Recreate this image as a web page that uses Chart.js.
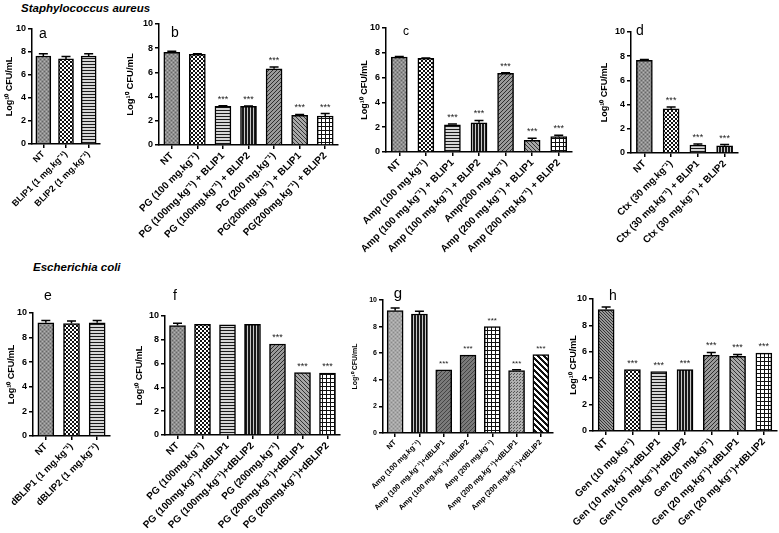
<!DOCTYPE html>
<html><head><meta charset="utf-8">
<script src="https://cdn.jsdelivr.net/npm/chart.js@4.4.1/dist/chart.umd.min.js"></script>
<style>
body{margin:0;width:779px;height:533px;background:#fff;position:relative;overflow:hidden;font-family:'Liberation Sans',Arial,sans-serif}
canvas{position:absolute}
.t{position:absolute;font-weight:bold;font-style:italic;font-size:11.5px;white-space:nowrap;color:#000}
.l{position:absolute;font-size:14px;transform:translate(-50%,-50%);color:#000}
</style></head><body>
<div class="t" style="left:21px;top:2px">Staphylococcus aureus</div>
<div class="t" style="left:33px;top:261px">Escherichia coli</div>
<script>
// ---------- DATA ----------
const sup = "mg.kg\u207B\u00B9";
const labelsA = ["NT", "BLIP1 (1 " + sup + ")", "BLIP2 (1 " + sup + ")"];
const valuesA = [7.65, 7.4, 7.65];
const errorsA = [0.2, 0.2, 0.2];
const sigA = [0, 0, 0];

const labelsB = ["NT", "PG (100 " + sup + ")", "PG (100" + sup + ") + BLIP1", "PG (100" + sup + ") + BLIP2", "PG (200 " + sup + ")", "PG(200" + sup + ") + BLIP1", "PG(200" + sup + ") + BLIP2"];
const valuesB = [7.65, 7.5, 3.2, 3.2, 6.3, 2.45, 2.4];
const errorsB = [0.1, 0.05, 0.05, 0.03, 0.15, 0.08, 0.2];
const sigB = [0, 0, 1, 1, 1, 1, 1];

const labelsC = ["NT", "Amp (100 " + sup + ")", "Amp (100 " + sup + ") + BLIP1", "Amp (100 " + sup + ") + BLIP2", "Amp(200 " + sup + ")", "Amp (200 " + sup + ") + BLIP1", "Amp (200 " + sup + ") + BLIP2"];
const valuesC = [7.65, 7.55, 2.2, 2.35, 6.35, 0.95, 1.25];
const errorsC = [0.05, 0.03, 0.05, 0.2, 0.05, 0.15, 0.1];
const sigC = [0, 0, 1, 1, 1, 1, 1];

const labelsD = ["NT", "Ctx (30 " + sup + ")", "Ctx (30 " + sup + ") + BLIP1", "Ctx (30 " + sup + ") + BLIP2"];
const valuesD = [7.65, 3.65, 0.65, 0.6];
const errorsD = [0.08, 0.15, 0.1, 0.1];
const sigD = [0, 1, 1, 1];

const labelsE = ["NT", "dBLIP1 (1 " + sup + ")", "dBLIP2 (1 " + sup + ")"];
const valuesE = [9.2, 9.15, 9.2];
const errorsE = [0.2, 0.2, 0.2];
const sigE = [0, 0, 0];

const labelsF = ["NT", "PG (100" + sup + ")", "PG (100" + sup + ")+dBLIP1", "PG (100" + sup + ")+dBLIP2", "PG (200" + sup + ")", "PG (200" + sup + ")+dBLIP1", "PG (200" + sup + ")+dBLIP2"];
const valuesF = [9.2, 9.3, 9.25, 9.3, 7.65, 5.25, 5.2];
const errorsF = [0.2, 0, 0, 0, 0, 0, 0];
const sigF = [0, 0, 0, 0, 1, 1, 1];

const labelsG = ["NT", "Amp (100 " + sup + ")", "Amp (100 " + sup + ")+dBLIP1", "Amp (100 " + sup + ")+dBLIP2", "Amp (200 " + sup + ")", "Amp (200 " + sup + ")+dBLIP1", "Amp (200 " + sup + ")+dBLIP2"];
const valuesG = [9.2, 8.95, 4.75, 5.85, 8.0, 4.7, 5.9];
const errorsG = [0.2, 0.2, 0, 0, 0, 0.05, 0];
const sigG = [0, 0, 1, 1, 1, 1, 1];

const labelsH = ["NT", "Gen (10 " + sup + ")", "Gen (10 " + sup + ")+dBLIP1", "Gen (10 " + sup + ")+dBLIP2", "Gen (20 " + sup + ")", "Gen (20 " + sup + ")+dBLIP1", "Gen (20 " + sup + ")+dBLIP2"];
const valuesH = [9.2, 4.65, 4.5, 4.65, 5.75, 5.65, 5.9];
const errorsH = [0.2, 0, 0, 0, 0.2, 0.15, 0];
const sigH = [0, 1, 1, 1, 1, 1, 1];

const yTicks = [0, 2, 4, 6, 8, 10];
const yTitle = "Log\u00B9\u2070 CFU/mL";

// ---------- STYLE ----------
const FONT = "'Liberation Sans', Arial, sans-serif";
Chart.defaults.font.family = FONT;

function makePattern(kind) {
  const t = document.createElement('canvas');
  const g = t.getContext('2d');
  const sz = (w, h) => { t.width = w; t.height = h; };
  const px = (c, pts) => { g.fillStyle = c; pts.forEach(p => g.fillRect(p[0], p[1], p[2] || 1, p[3] || 1)); };
  switch (kind) {
    case 'nt': sz(4, 4); px('#8e8e8e', [[0, 0, 4, 4]]); px('#666', [[0, 0], [2, 2]]); px('#b2b2b2', [[2, 0], [0, 2]]); break;
    case 'ntl': sz(4, 4); px('#a6a6a6', [[0, 0, 4, 4]]); px('#8a8a8a', [[0, 0], [2, 2]]); px('#bcbcbc', [[2, 0], [0, 2]]); break;
    case 'ntd': sz(3, 3); px('#9a9a9a', [[0, 0, 3, 3]]); px('#333', [[0, 0], [1, 1], [2, 2]]); break;
    case 'check': sz(4, 4); px('#fff', [[0, 0, 4, 4]]); px('#111', [[0, 0, 2, 2], [2, 2, 2, 2]]); break;
    case 'hlines': sz(3, 3); px('#d6d6d6', [[0, 0, 3, 3]]); px('#1a1a1a', [[0, 0, 3, 1]]); break;
    case 'vlines': sz(3, 3); px('#1a1a1a', [[0, 0, 3, 3]]); px('#c8c8c8', [[2, 0, 1, 3]]); break;
    case 'diag': sz(4, 4); px('#9a9a9a', [[0, 0, 4, 4]]); px('#2e2e2e', [[0, 3], [1, 2], [2, 1], [3, 0]]); break;
    case 'diag2': sz(4, 4); px('#a8a8a8', [[0, 0, 4, 4]]); px('#333', [[0, 0], [1, 1], [2, 2], [3, 3]]); break;
    case 'dark': sz(4, 4); px('#7a7a7a', [[0, 0, 4, 4]]); px('#444', [[0, 3], [1, 2], [2, 1], [3, 0]]); break;
    case 'dots': sz(3, 3); px('#b0b0b0', [[0, 0, 3, 3]]); px('#555', [[0, 0], [1, 2]]); break;
    case 'grid': sz(4, 4); px('#fff', [[0, 0, 4, 4]]); px('#111', [[0, 0, 4, 1], [0, 0, 1, 4]]); break;
    case 'stripes': sz(6, 6); px('#fff', [[0, 0, 6, 6]]);
      for (let y = 0; y < 6; y++) for (let x = 0; x < 6; x++) if (((x - y) % 6 + 6) % 6 < 3) px('#111', [[x, y]]);
      break;
  }
  return document.createElement('canvas').getContext('2d').createPattern(t, 'repeat');
}

function panel(p) {
  const cl = p.titleX - 9, ct = p.y10 - 10, cr = p.xEnd + 4, cb = Math.min(p.y0 + 115, 533);
  const cv = document.createElement('canvas');
  cv.width = cr - cl; cv.height = cb - ct;
  cv.style.left = cl + 'px'; cv.style.top = ct + 'px';
  document.body.appendChild(cv);
  const lab = document.createElement('div');
  lab.className = 'l'; lab.textContent = p.letter;
  lab.style.left = p.lx + 'px'; lab.style.top = p.ly + 'px';
  lab.style.fontSize = (p.lf || 14) + 'px';
  document.body.appendChild(lab);

  const errPlugin = {
    id: 'errbars',
    afterDatasetsDraw(chart) {
      const ctx = chart.ctx, ys = chart.scales.y;
      const meta = chart.getDatasetMeta(0);
      ctx.save();
      ctx.strokeStyle = '#000'; ctx.lineWidth = 1.5;
      meta.data.forEach((bar, i) => {
        const v = p.values[i], e = p.errors[i];
        const yTop = ys.getPixelForValue(v + e);
        if (e > 0) {
          const yv = ys.getPixelForValue(v);
          ctx.beginPath();
          ctx.moveTo(bar.x, yv); ctx.lineTo(bar.x, yTop);
          ctx.moveTo(bar.x - 4.5, yTop); ctx.lineTo(bar.x + 4.5, yTop);
          ctx.stroke();
        }
        if (p.sig[i]) {
          ctx.fillStyle = '#222';
          ctx.font = (p.sf || 9) + 'px ' + FONT;
          ctx.textAlign = 'center'; ctx.textBaseline = 'alphabetic';
          ctx.fillText('***', bar.x, yTop - 4);
        }
      });
      ctx.restore();
    }
  };

  new Chart(cv, {
    type: 'bar',
    data: {
      labels: p.labels,
      datasets: [{ data: p.values, backgroundColor: p.fills.map(makePattern), borderColor: '#000', borderWidth: 1.5, borderSkipped: 'bottom', barThickness: p.bw || 16 }]
    },
    options: {
      responsive: false, animation: false, events: [],
      plugins: { legend: { display: false }, tooltip: { enabled: false } },
      layout: { padding: { top: p.y10 - ct, right: cr - p.xEnd, left: 0, bottom: 0 } },
      scales: {
        x: {
          offset: true,
          grid: { display: true, drawOnChartArea: false, offset: false, tickLength: 4, color: '#000', lineWidth: 1.5 },
          border: { color: '#000', width: 1.5 },
          ticks: { autoSkip: false, maxRotation: 45, minRotation: 45, color: '#000', padding: 1, font: { size: p.xf, weight: 'bold' } },
          afterFit: s => { s.height = cb - p.y0; }
        },
        y: {
          min: 0, max: 10,
          afterBuildTicks: s => { s.ticks = yTicks.map(v => ({ value: v })); },
          ticks: { color: '#000', padding: 2, font: { size: p.yf, weight: 'bold' } },
          grid: { drawOnChartArea: false, tickLength: 4, color: '#000', lineWidth: 1.5 },
          border: { color: '#000', width: 1.5 },
          title: { display: true, text: yTitle, color: '#000', padding: { top: 0, bottom: 0 }, font: { size: p.tf, weight: 'bold' } },
          afterFit: s => { s.width = p.axisX - cl; }
        }
      }
    },
    plugins: [errPlugin]
  });
}

panel({ letter: 'a', lx: 43, ly: 33, labels: labelsA, values: valuesA, errors: errorsA, sig: sigA,
  fills: ['nt', 'check', 'hlines'], axisX: 32, y10: 29, y0: 144, xEnd: 100, titleX: 13, xf: 9, yf: 9, tf: 9, bw: 15 });
panel({ letter: 'b', lx: 175, ly: 32, labels: labelsB, values: valuesB, errors: errorsB, sig: sigB,
  fills: ['nt', 'check', 'hlines', 'vlines', 'diag', 'diag2', 'grid'], axisX: 159, y10: 24, y0: 145, xEnd: 338, titleX: 134, xf: 10, yf: 9, tf: 9.5 });
panel({ letter: 'c', lx: 406, ly: 31, lf: 12, labels: labelsC, values: valuesC, errors: errorsC, sig: sigC,
  fills: ['nt', 'check', 'hlines', 'vlines', 'diag', 'diag2', 'grid'], axisX: 386, y10: 28, y0: 152, xEnd: 572, titleX: 368, xf: 10, yf: 9, tf: 9 });
panel({ letter: 'd', lx: 640, ly: 30, labels: labelsD, values: valuesD, errors: errorsD, sig: sigD,
  fills: ['nt', 'check', 'hlines', 'vlines'], axisX: 631, y10: 32, y0: 153, xEnd: 738, titleX: 608, xf: 9.8, yf: 9, tf: 9 });
panel({ letter: 'e', lx: 48, ly: 295, labels: labelsE, values: valuesE, errors: errorsE, sig: sigE,
  fills: ['nt', 'check', 'hlines'], axisX: 33, y10: 313, y0: 436, xEnd: 110, titleX: 15, xf: 9.5, yf: 9, tf: 9 });
panel({ letter: 'f', lx: 175, ly: 295, labels: labelsF, values: valuesF, errors: errorsF, sig: sigF,
  fills: ['nt', 'check', 'hlines', 'vlines', 'diag', 'diag2', 'grid'], axisX: 165, y10: 316, y0: 435, xEnd: 340, titleX: 143, xf: 10, yf: 9, tf: 9 });
panel({ letter: 'g', lx: 398, ly: 292, lf: 15, labels: labelsG, values: valuesG, errors: errorsG, sig: sigG,
  fills: ['ntl', 'vlines', 'dark', 'dark', 'grid', 'dots', 'stripes'], axisX: 383, y10: 300, y0: 433, xEnd: 553, titleX: 360, xf: 7.5, yf: 7, tf: 7, sf: 8 });
panel({ letter: 'h', lx: 613, ly: 295, labels: labelsH, values: valuesH, errors: errorsH, sig: sigH,
  fills: ['ntd', 'check', 'hlines', 'vlines', 'diag', 'diag2', 'grid'], axisX: 593, y10: 299, y0: 431, xEnd: 777, titleX: 577, xf: 10, yf: 9, tf: 9 });
</script>
</body></html>
